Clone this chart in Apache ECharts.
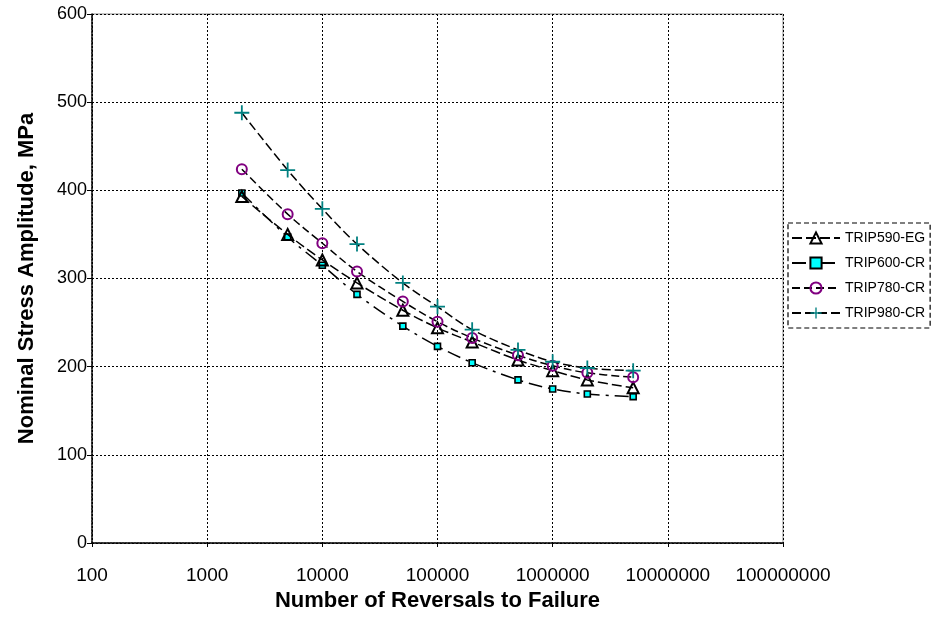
<!DOCTYPE html>
<html>
<head>
<meta charset="utf-8">
<script src="https://cdn.jsdelivr.net/npm/echarts@6/dist/echarts.min.js"></script>
<style>
  html, body { margin: 0; padding: 0; background: #fff; }
  #chart { width: 947px; height: 619px; }
</style>
</head>
<body>
<div id="chart"></div>
<script>
// Number of reversals to failure (2Nf)
const reversals = [2000, 5000, 10000, 20000, 50000, 100000, 200000, 500000, 1000000, 2000000, 5000000];

// Nominal stress amplitude (MPa) for each steel grade
const trip590 = [393, 350, 321, 295, 264, 244, 228, 207.5, 195.5, 185, 176];
const trip600 = [397, 347, 315, 282, 246, 223, 204.5, 185, 174.7, 169, 166];
const trip780 = [424, 373, 340, 308, 274, 251, 232.5, 213, 201, 193, 188];
const trip980 = [488, 423, 379, 339, 295, 268, 242, 219, 205.6, 198.5, 195.5];

const seriesNames = ['TRIP590-EG', 'TRIP600-CR', 'TRIP780-CR', 'TRIP980-CR'];

const pairs = vals => reversals.map((x, i) => [x, vals[i]]);

// thin "+" marker
const plusPath = 'path://M4.4,0h1.2v4.4h4.4v1.2h-4.4v4.4h-1.2v-4.4h-4.4v-1.2h4.4z';

const chart = echarts.init(document.getElementById('chart'), null, { renderer: 'canvas' });

const font = 'Arial, "Liberation Sans", sans-serif';

chart.setOption({
  animation: false,
  backgroundColor: '#fff',
  grid: {
    left: 92, right: 164, top: 14, bottom: 76,
    show: true, borderColor: '#888', borderWidth: 1
  },
  legend: {
    orient: 'vertical',
    left: 788, top: 223,
    padding: [8, 5, 8, 3],
    itemGap: 11,
    itemWidth: 48,
    itemHeight: 14,
    borderColor: '#000',
    borderWidth: 1.2,
    borderType: [5, 3],
    textStyle: { fontFamily: font, fontSize: 14, color: '#000' },
    data: seriesNames
  },
  xAxis: {
    type: 'log',
    logBase: 10,
    min: 100,
    max: 100000000,
    name: 'Number of Reversals to Failure',
    nameLocation: 'middle',
    nameGap: 44,
    nameTextStyle: { fontFamily: font, fontSize: 22, fontWeight: 'bold', color: '#000' },
    axisLine: { onZero: false, lineStyle: { color: '#000', width: 1.5, type: [2, 1] } },
    axisTick: { show: true, length: 4, inside: false, lineStyle: { color: '#000' } },
    axisLabel: {
      margin: 23,
      fontFamily: font, fontSize: 19, color: '#000',
      formatter: v => String(Math.round(v))
    },
    splitLine: { show: true, lineStyle: { color: '#000', type: [2, 2], width: 1 } },
    minorTick: { show: false },
    minorSplitLine: { show: false }
  },
  yAxis: {
    type: 'value',
    min: 0, max: 600, interval: 100,
    name: 'Nominal Stress Amplitude, MPa',
    nameLocation: 'middle',
    nameGap: 54,
    nameTextStyle: { fontFamily: font, fontSize: 22, fontWeight: 'bold', color: '#000' },
    axisLine: { show: true, lineStyle: { color: '#000', width: 1.5, type: [2, 1] } },
    axisTick: { show: true, length: 5, lineStyle: { color: '#000' } },
    axisLabel: { margin: 5, fontFamily: font, fontSize: 18, color: '#000' },
    splitLine: { show: true, lineStyle: { color: '#000', type: [2, 2], width: 1 } }
  },
  series: [
    {
      name: seriesNames[0],
      type: 'line',
      smooth: 0.35,
      data: pairs(trip590),
      symbol: 'triangle',
      symbolSize: [11, 11],
      itemStyle: { color: 'rgba(255,255,255,0)', borderColor: '#000', borderWidth: 2 },
      lineStyle: { color: '#000', width: 1.5, type: [10, 4] },
      z: 4
    },
    {
      name: seriesNames[1],
      type: 'line',
      smooth: 0.35,
      data: pairs(trip600),
      symbol: 'rect',
      symbolSize: 6,
      itemStyle: { color: '#00ffff', borderColor: '#000', borderWidth: 1.6 },
      lineStyle: { color: '#000', width: 1.5, type: [14, 6, 3, 6] },
      z: 3
    },
    {
      name: seriesNames[2],
      type: 'line',
      smooth: 0.35,
      data: pairs(trip780),
      symbol: 'circle',
      symbolSize: 10,
      itemStyle: { color: 'rgba(255,255,255,0)', borderColor: '#800080', borderWidth: 2 },
      lineStyle: { color: '#000', width: 1.5, type: [8, 4] },
      z: 5
    },
    {
      name: seriesNames[3],
      type: 'line',
      smooth: 0.35,
      data: pairs(trip980),
      symbol: plusPath,
      symbolSize: 15,
      itemStyle: { color: '#008080', borderWidth: 0 },
      lineStyle: { color: '#000', width: 1.5, type: [9, 4] },
      z: 6
    }
  ]
});
</script>
</body>
</html>
